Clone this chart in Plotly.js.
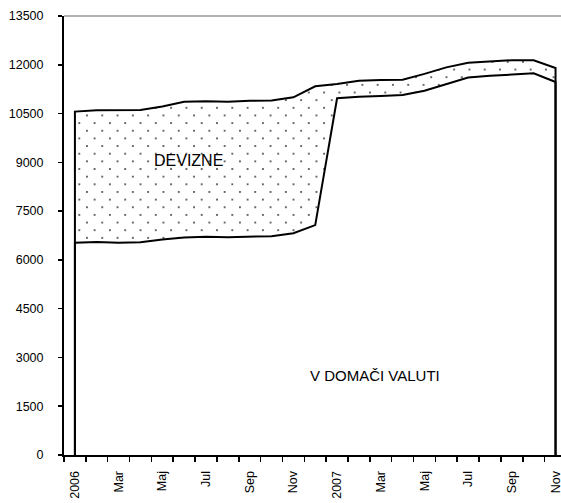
<!DOCTYPE html>
<html>
<head>
<meta charset="utf-8">
<script src="https://cdn.plot.ly/plotly-3.0.1.min.js"></script>
<style>
  html, body { margin: 0; padding: 0; background: #fff; overflow: hidden; }
  #graph { width: 561px; height: 503px; }
</style>
</head>
<body>
<div id="graph"></div>
<script>
// Months covered: January 2006 - November 2007
const months = ['jan 2006', 'feb 2006', 'mar 2006', 'apr 2006', 'maj 2006', 'jun 2006',
                'jul 2006', 'avg 2006', 'sep 2006', 'okt 2006', 'nov 2006', 'dec 2006',
                'jan 2007', 'feb 2007', 'mar 2007', 'apr 2007', 'maj 2007', 'jun 2007',
                'jul 2007', 'avg 2007', 'sep 2007', 'okt 2007', 'nov 2007'];

// Labels shown under every second month
const tickLabels = ['2006', 'Mar', 'Maj', 'Jul', 'Sep', 'Nov',
                    '2007', 'Mar', 'Maj', 'Jul', 'Sep', 'Nov'];

// Deposits in domestic currency (V DOMAČI VALUTI)
const domestic = [6530, 6550, 6530, 6540, 6630, 6690, 6710, 6700, 6720, 6730, 6820, 7070,
                  10970, 11020, 11040, 11070, 11200, 11400, 11610, 11660, 11700, 11740, 11470];

// Foreign currency deposits (DEVIZNE), stacked on top
const foreign = [4030, 4050, 4070, 4070, 4090, 4170, 4170, 4160, 4170, 4170, 4180, 4270,
                 440, 490, 490, 470, 520, 520, 450, 430, 440, 400, 430];

// Build the stacked outlines, closing each area down to zero at both ends
const idx = months.map((_, i) => i);
const last = idx.length - 1;
const total = domestic.map((v, i) => v + foreign[i]);

const xs = [0].concat(idx, [last]);
const lowerY = [0].concat(domestic, [0]);
const upperY = [0].concat(total, [0]);

const dotSize = 15.3; // pattern tile, dots get staggered below

const lowerTrace = {
    x: xs,
    y: lowerY,
    type: 'scatter',
    mode: 'lines',
    line: { color: '#000', width: 2 },
    fill: 'tozeroy',
    fillcolor: '#fff',
    hoverinfo: 'skip'
};

const upperTrace = {
    x: xs,
    y: upperY,
    type: 'scatter',
    mode: 'lines',
    line: { color: '#000', width: 2 },
    fill: 'tonexty',
    fillcolor: '#fff',
    fillpattern: { shape: '.', size: dotSize, solidity: 0.012, fgcolor: '#333', bgcolor: '#fff' },
    hoverinfo: 'skip'
};

const tickVals = tickLabels.map((_, i) => i * 2);

const layout = {
    width: 561,
    height: 503,
    margin: { l: 64, r: 0, t: 16, b: 48 },
    paper_bgcolor: '#fff',
    plot_bgcolor: '#fff',
    showlegend: false,
    font: { family: 'Arial, "Liberation Sans", sans-serif', size: 12, color: '#000' },
    xaxis: {
        range: [-0.5, 22.25],
        tickmode: 'array',
        tickvals: tickVals,
        ticktext: tickLabels,
        tickangle: -90,
        ticks: '',
        ticklabelstandoff: 9,
        ticklabeloverflow: 'allow',
        tickfont: { size: 12.5 },
        showline: true,
        linecolor: '#000',
        linewidth: 2,
        showgrid: false,
        zeroline: false,
        minor: { tick0: -0.5, dtick: 1, ticks: 'outside', ticklen: 5, tickwidth: 1.5, tickcolor: '#000', showgrid: false }
    },
    yaxis: {
        range: [0, 13500],
        tick0: 0,
        dtick: 1500,
        tickformat: 'd',
        ticks: 'outside',
        ticklen: 4,
        tickwidth: 1.5,
        tickcolor: '#000',
        ticklabelstandoff: 12,
        tickfont: { size: 12.5 },
        showline: true,
        linecolor: '#000',
        linewidth: 2,
        showgrid: false,
        zeroline: false
    },
    shapes: [
        // grey top border of the plot area
        { type: 'line', xref: 'paper', yref: 'paper', x0: 0, x1: 1, y0: 1, y1: 1,
          line: { color: '#9a9a9a', width: 1.5 } }
    ],
    annotations: [
        { x: 5.2, y: 9050, text: 'DEVIZNE', showarrow: false,
          font: { size: 16, color: '#000' } },
        { x: 13.75, y: 2430, text: 'V DOMAČI VALUTI', showarrow: false,
          font: { size: 15, color: '#000' } }
    ]
};

Plotly.newPlot('graph', [lowerTrace, upperTrace], layout, { displayModeBar: false, staticPlot: true })
    .then(gd => {
        // add corner dots to each pattern tile so the dots sit in staggered rows
        gd.querySelectorAll('pattern').forEach(p => {
            const c = p.querySelector('circle');
            if (!c) return;
            [[0, 0], [dotSize, 0], [0, dotSize], [dotSize, dotSize]].forEach(([cx, cy]) => {
                const dot = c.cloneNode();
                dot.setAttribute('cx', cx);
                dot.setAttribute('cy', cy);
                p.appendChild(dot);
            });
        });
    });
</script>
</body>
</html>
